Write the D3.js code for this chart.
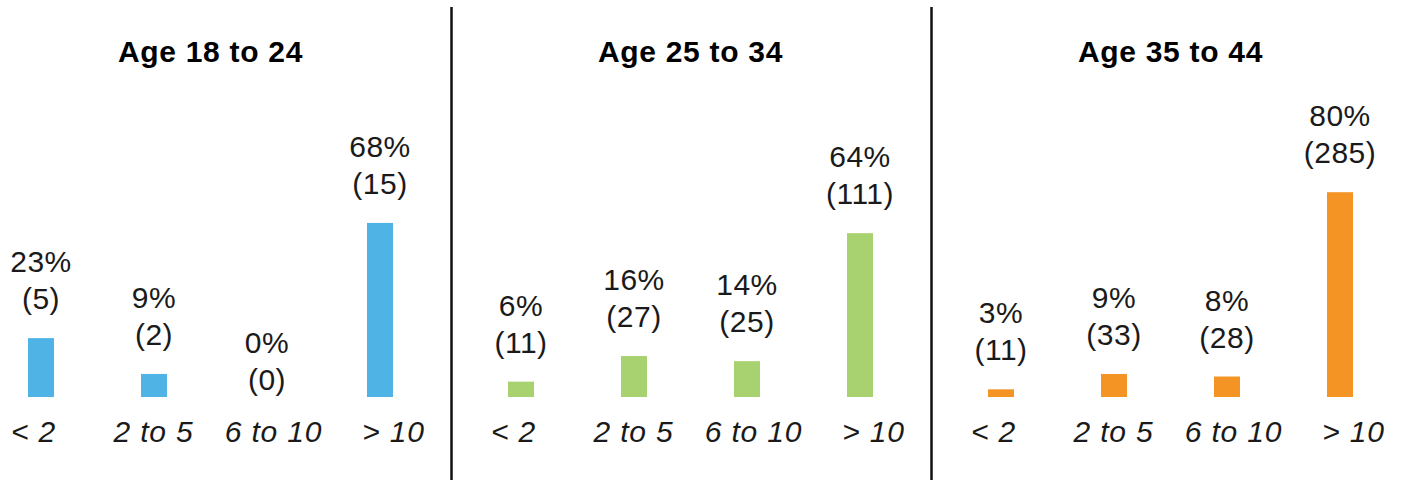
<!DOCTYPE html>
<html>
<head>
<meta charset="utf-8">
<script src="https://cdn.jsdelivr.net/npm/d3@7"></script>
<style>
  html, body { margin: 0; padding: 0; background: #fff; }
  svg { display: block; font-family: "Liberation Sans", Arial, Helvetica, sans-serif; }
</style>
</head>
<body>
<svg id="chart" width="1403" height="480"></svg>
<script>
// Years of experience buckets, one panel per age group
const groups = ["Age 18 to 24", "Age 25 to 34", "Age 35 to 44"];
const categories = ["< 2", "2 to 5", "6 to 10", "> 10"];
const colors = ["#4fb3e6", "#a8d26f", "#f49425"];

// Share of respondents (%) and respondent counts per bucket
const percent18to24 = [23, 9, 0, 68];
const count18to24 = [5, 2, 0, 15];
const percent25to34 = [6, 16, 14, 64];
const count25to34 = [11, 27, 25, 111];
const percent35to44 = [3, 9, 8, 80];
const count35to44 = [11, 33, 28, 285];

const panels = [
  { title: groups[0], color: colors[0], pct: percent18to24, n: count18to24 },
  { title: groups[1], color: colors[1], pct: percent25to34, n: count25to34 },
  { title: groups[2], color: colors[2], pct: percent35to44, n: count35to44 }
];

const W = 1403, H = 480;
const svg = d3.select("#chart");

// Panel offsets
const panelX = d3.scaleBand().domain(groups).range([0, 1440]).padding(0);
// Bar centres inside a panel
const barX = d3.scalePoint().domain(categories).range([41, 380]);
// Category label centres inside a panel
const labelX = d3.scalePoint().domain(categories).range([33.5, 393.5]);
// Bar heights
const y = d3.scaleLinear().domain([0, 100]).range([397, 141]);
const barW = 26;

panels.forEach((p, gi) => {
  const g = svg.append("g").attr("transform", `translate(${panelX(p.title)},0)`);
  const mid = (barX.range()[0] + barX.range()[1]) / 2;

  g.append("text")
    .attr("x", mid)
    .attr("y", 62)
    .attr("text-anchor", "middle")
    .attr("font-weight", "bold")
    .attr("font-size", 30)
    .attr("letter-spacing", 0.7)
    .attr("fill", "#000")
    .text(p.title);

  const rows = categories.map((c, i) => ({ cat: c, pct: p.pct[i], n: p.n[i] }));

  g.selectAll("rect.bar")
    .data(rows)
    .join("rect")
    .attr("class", "bar")
    .attr("x", d => barX(d.cat) - barW / 2)
    .attr("y", d => y(d.pct))
    .attr("width", barW)
    .attr("height", d => y(0) - y(d.pct))
    .attr("fill", p.color);

  // Value labels: percentage above the count, both above the bar
  const lab = g.selectAll("g.val")
    .data(rows)
    .join("g")
    .attr("class", "val")
    .attr("transform", d => `translate(${barX(d.cat)},${y(d.pct) - (d.pct > 0 ? 29 : 7)})`);

  lab.append("text")
    .attr("y", -37)
    .attr("text-anchor", "middle")
    .attr("font-size", 30)
    .attr("letter-spacing", 0.5)
    .attr("fill", "#1a1a1a")
    .text(d => `${d.pct}%`);

  lab.append("text")
    .attr("y", 0)
    .attr("text-anchor", "middle")
    .attr("font-size", 30)
    .attr("letter-spacing", 0.5)
    .attr("fill", "#1a1a1a")
    .text(d => `(${d.n})`);

  // Category axis labels
  g.selectAll("text.cat")
    .data(categories)
    .join("text")
    .attr("class", "cat")
    .attr("x", d => labelX(d))
    .attr("y", 442)
    .attr("text-anchor", "middle")
    .attr("font-style", "italic")
    .attr("font-size", 30)
    .attr("letter-spacing", 0.8)
    .attr("fill", "#1a1a1a")
    .text(d => d);

  // Divider between panels
  if (gi < panels.length - 1) {
    const right = barX(categories[categories.length - 1]) + barW / 2;
    const nextLeft = panelX.step() + barX(categories[0]) - barW / 2;
    g.append("line")
      .attr("x1", (right + nextLeft) / 2 + 1)
      .attr("x2", (right + nextLeft) / 2 + 1)
      .attr("y1", 7)
      .attr("y2", H)
      .attr("stroke", "#111")
      .attr("stroke-width", 2.5);
  }
});
</script>
</body>
</html>
